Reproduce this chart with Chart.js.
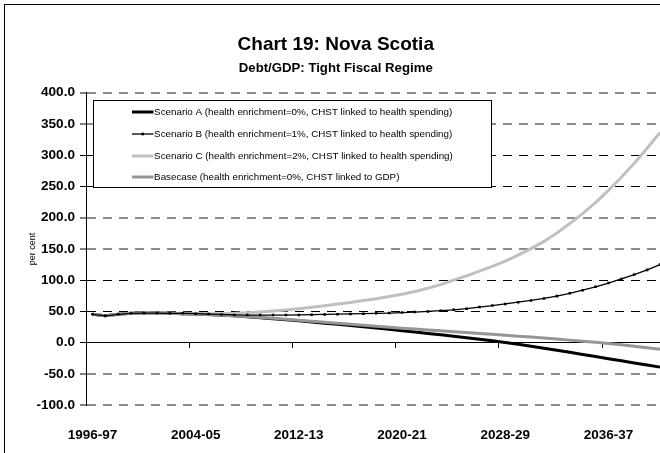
<!DOCTYPE html>
<html><head><meta charset="utf-8">
<script src="https://cdn.jsdelivr.net/npm/chart.js@4.4.1/dist/chart.umd.min.js"></script>
<style>
html,body{margin:0;padding:0;overflow:hidden;background:#fff;width:660px;height:453px;}
#wrap{position:absolute;left:0;top:0;width:680px;height:470px;}
#frame{position:absolute;left:4px;top:4px;width:700px;height:500px;border:1.5px solid #000;pointer-events:none;}
canvas{position:absolute;left:0;top:0;}
</style></head><body>
<div id="wrap"><canvas id="c" width="680" height="470"></canvas></div>
<div id="frame"></div>
<script>
const categories = ['1996-97','1997-98','1998-99','1999-00','2000-01','2001-02','2002-03','2003-04','2004-05','2005-06',
  '2006-07','2007-08','2008-09','2009-10','2010-11','2011-12','2012-13','2013-14','2014-15','2015-16',
  '2016-17','2017-18','2018-19','2019-20','2020-21','2021-22','2022-23','2023-24','2024-25','2025-26',
  '2026-27','2027-28','2028-29','2029-30','2030-31','2031-32','2032-33','2033-34','2034-35','2035-36',
  '2036-37','2037-38','2038-39','2039-40','2040-41'];

const scenarioA = [45.5,43,45.5,47,47.5,47.5,47,46.5,46,45,44,43,41.5,40,38.5,36.8,35,33.2,31.3,29.4,
  27.5,25.5,23.4,21.4,19.3,17.1,14.9,12.7,10.5,8.1,5.6,3.1,0.5,-2.5,-5.6,-8.8,-12,-15.3,-18.7,-22.1,
  -25.5,-28.9,-32.3,-35.7,-39];
const scenarioB = [45.5,43,45.5,47,47.5,47.5,47,47,46.5,45.8,45.3,44.5,44.3,44.2,44.2,44.3,44.5,44.8,45.2,45.6,
  46,46.5,47,47.5,48.2,49,50,51.2,52.6,54.5,57,59.5,62,64.8,67.7,70.8,74.5,79,84,89.5,
  95.5,102,109,116.5,125];
const scenarioC = [45.5,43,45.5,47,47.5,47.5,47,47,46.8,46.5,46.5,47,48,49.2,50.7,52.5,54.5,56.8,59.2,61.8,
  64.5,67.5,70.5,73.8,77.5,82,87,93,100,107,114.5,122,130.5,140,150.5,162,175.5,190.5,206.5,224,
  243.5,264.5,287,311,336];
const basecase = [45.5,43,45.5,47,47.5,47.5,47,46.5,46,45,44,43,42,40.5,39,37.5,36,34.4,32.8,31.2,
  29.6,28,26.4,24.8,23.2,21.8,20.4,19,17.6,16.2,14.8,13.4,12,10.5,9,7.5,5.9,4.2,2.5,0.7,
  -1.2,-3.3,-5.5,-7.9,-10.5];

const seriesNames = [
  'Scenario A (health enrichment=0%, CHST linked to health spending)',
  'Scenario B (health enrichment=1%, CHST linked to health spending)',
  'Scenario C (health enrichment=2%, CHST linked to health spending)',
  'Basecase (health enrichment=0%, CHST linked to GDP)'
];
const yMin = -100, yMax = 400, yStep = 50;
const labelEvery = 8;

const FONT = '"Liberation Sans", Arial, Helvetica, sans-serif';
const darkGridValues = [300, 250, 100, 50, 0];

const legendPlugin = {
  id: 'boxLegend',
  afterDraw(chart) {
    const ctx = chart.ctx, a = chart.chartArea;
    const x = Math.round(a.left + 7) + 0.5, y = Math.round(a.top + 7) + 0.5, w = 398, h = 87;
    ctx.save();
    ctx.fillStyle = '#fff';
    ctx.fillRect(x, y, w, h);
    ctx.strokeStyle = '#000'; ctx.lineWidth = 1;
    ctx.strokeRect(x, y, w, h);
    ctx.font = '9.8px ' + FONT;
    ctx.textBaseline = 'middle';
    chart.data.datasets.forEach((ds, i) => {
      const cy = Math.round(y + 11.7 + i * 21.7);
      ctx.strokeStyle = ds.borderColor; ctx.lineWidth = ds.borderWidth;
      ctx.beginPath(); ctx.moveTo(x + 38.5, cy); ctx.lineTo(x + 60, cy); ctx.stroke();
      if (ds.pointRadius > 0) {
        ctx.fillStyle = ds.pointBackgroundColor;
        ctx.fillRect(x + 48, cy - 1.3, 2.6, 2.6);
      }
      ctx.fillStyle = '#000';
      ctx.fillText(ds.label, x + 60.6, cy);
    });
    ctx.restore();
  }
};

new Chart(document.getElementById('c'), {
  type: 'line',
  data: {
    labels: categories,
    datasets: [
      { label: seriesNames[0], data: scenarioA, borderColor: '#000000', borderWidth: 3, pointRadius: 0, order: 3 },
      { label: seriesNames[1], data: scenarioB, borderColor: '#000000', borderWidth: 1.3, pointRadius: 1.8,
        pointStyle: 'rect', pointBackgroundColor: '#000000', pointBorderWidth: 0, order: 0 },
      { label: seriesNames[2], data: scenarioC, borderColor: '#c0c0c0', borderWidth: 3, pointRadius: 0, order: 2 },
      { label: seriesNames[3], data: basecase, borderColor: '#969696', borderWidth: 3, pointRadius: 0, order: 1 }
    ]
  },
  options: {
    responsive: false,
    animation: false,
    devicePixelRatio: 1,
    elements: { line: { tension: 0, borderJoinStyle: 'round' } },
    layout: { padding: { left: 5, right: 13.5, top: 0, bottom: 13.3 } },
    plugins: {
      legend: { display: false },
      tooltip: { enabled: false },
      title: { display: true, text: 'Chart 19: Nova Scotia', color: '#000',
        font: { family: FONT, size: 19, weight: 'bold', lineHeight: 1.2 }, padding: { top: 33.1, bottom: 0 } },
      subtitle: { display: true, text: 'Debt/GDP: Tight Fiscal Regime', color: '#000',
        font: { family: FONT, size: 13.2, weight: 'bold', lineHeight: 1.2 }, padding: { top: 4.3, bottom: 16.5 } }
    },
    scales: {
      x: {
        type: 'category', position: 'bottom', offset: true,
        grid: { display: false }, border: { display: false },
        ticks: { autoSkip: false, maxRotation: 0, minRotation: 0, padding: 13.6, color: '#000',
          font: { family: FONT, size: 13.5, weight: 'bold' },
          callback: (v, i) => (i % labelEvery === 0 ? categories[i] : '') }
      },
      x2: {
        type: 'category', position: { y: 0 }, offset: true,
        ticks: { display: false },
        grid: { display: true, offset: true, drawOnChartArea: false, drawTicks: true, tickLength: 5,
          tickWidth: 1, tickColor: c => (c.index !== undefined && c.index % labelEvery === 0) ? '#000' : 'rgba(0,0,0,0)' },
        border: { display: true, color: '#000', width: 1 }
      },
      y: {
        min: yMin, max: yMax,
        afterFit: s => { s.width = 81; },
        ticks: { stepSize: yStep, padding: 5, color: '#000',
          font: { family: FONT, size: 13.6, weight: 'bold' },
          callback: v => Number(v).toFixed(1) },
        title: { display: true, text: 'per cent', color: '#000', font: { family: FONT, size: 9 },
          padding: { top: 22.6, bottom: 0 } },
        grid: { drawTicks: true, tickLength: 6, tickColor: '#000', tickWidth: 1,
          color: c => (c.tick && darkGridValues.includes(c.tick.value)) ? '#000' : '#8c8c8c',
          lineWidth: c => (c.tick && darkGridValues.includes(c.tick.value)) ? 1 : 2 },
        border: { display: true, color: '#000', width: 1,
          dash: c => (c.tick && c.tick.value === 0) ? [] : [9, 7] }
      }
    }
  },
  plugins: [legendPlugin]
});
</script>
</body></html>
